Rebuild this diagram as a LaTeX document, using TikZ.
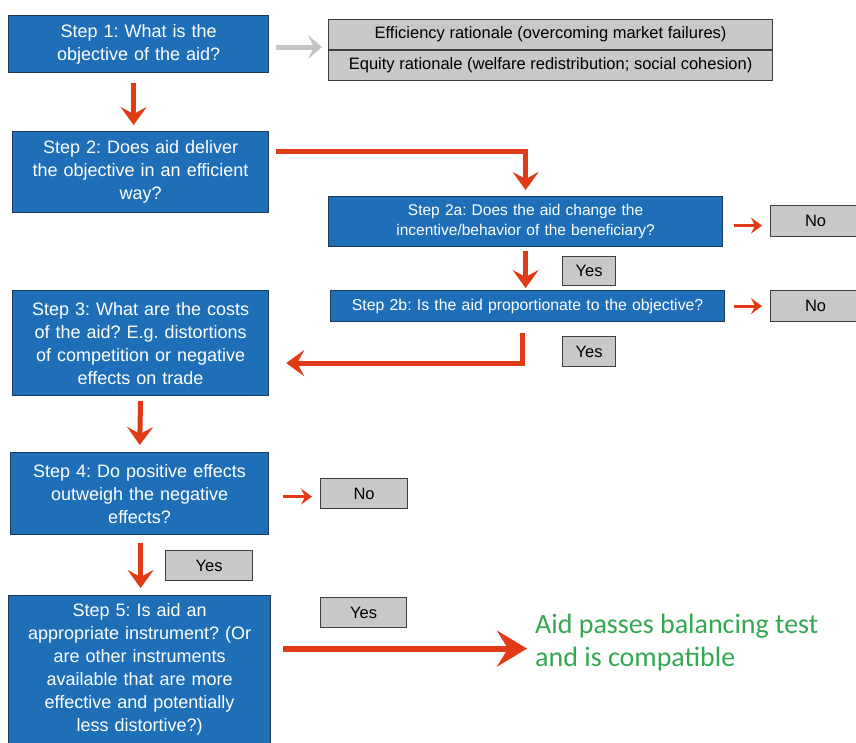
\documentclass[tikz,border=0pt]{standalone}
\usepackage{fontspec}
\setmainfont{Liberation Sans}
\newfontfamily\calib{Carlito}
\usetikzlibrary{arrows.meta}
\definecolor{stepblue}{HTML}{1F6FB8}
\definecolor{stepedge}{HTML}{1B3A57}
\definecolor{boxgray}{HTML}{C8C8C8}
\definecolor{arrred}{HTML}{E03A16}
\definecolor{passgreen}{HTML}{33A852}
\definecolor{arrgray}{HTML}{C4C4C4}
\frenchspacing
\begin{document}
\begin{tikzpicture}[x=1pt,y=-1pt,
 stepbox/.style={draw=stepedge, line width=1.2pt, fill=stepblue, text=white, align=center, anchor=north west, inner sep=0pt, font=\fontsize{18}{23}\selectfont},
 graybox/.style={draw=black!75, line width=1.2pt, fill=boxgray, anchor=north west, inner sep=0pt, align=center, font=\fontsize{16.5}{17}\selectfont},
 redarrow/.style={draw=arrred, line width=5pt, -{Stealth[length=18pt,width=26pt,inset=7pt]}},
 smallarrow/.style={draw=arrred, line width=3pt, -{Stealth[length=11pt,width=16pt,inset=4pt]}},
 bigarrow/.style={draw=arrred, line width=6pt, -{Stealth[length=30pt,width=36pt,inset=11pt]}},
 grayarrow/.style={draw=arrgray, line width=5pt, -{Stealth[length=14pt,width=24pt,inset=6pt]}}]
\useasboundingbox[fill=white] (0,0) rectangle (856,742);

\node[stepbox, minimum width=260pt, minimum height=57pt, text width=256pt] (s1) at (8,15) {Step 1: What is the\\objective of the aid?};
\node[graybox, minimum width=444pt, minimum height=30pt] (eff) at (328,19) {Efficiency rationale (overcoming market failures)};
\node[graybox, minimum width=444pt, minimum height=30pt] (eq) at (328,50) {Equity rationale (welfare redistribution; social cohesion)};
\node[stepbox, minimum width=256pt, minimum height=81pt, text width=252pt] (s2) at (12,131) {Step 2: Does aid deliver\\the objective in an efficient\\way?};
\node[stepbox, minimum width=394pt, minimum height=50pt, text width=390pt, font=\fontsize{15.5}{20}\selectfont] (s2a) at (328,196) {Step 2a: Does the aid change the\\incentive/behavior of the beneficiary?};
\node[graybox, minimum width=90pt, minimum height=31pt] (no1) at (770,205) {No};
\node[graybox, minimum width=53pt, minimum height=29pt] (yes1) at (562,256) {Yes};
\node[stepbox, minimum width=394pt, minimum height=31pt, text width=392pt, font=\fontsize{15.8}{20}\selectfont] (s2b) at (330,290) {Step 2b: Is the aid proportionate to the objective?};
\node[graybox, minimum width=90pt, minimum height=31pt] (no2) at (770,290) {No};
\node[graybox, minimum width=53pt, minimum height=30pt] (yes2) at (562,336) {Yes};
\node[stepbox, minimum width=256pt, minimum height=105pt, text width=252pt] (s3) at (12,290) {Step 3: What are the costs\\of the aid? E.g. distortions\\of competition or negative\\effects on trade};
\node[stepbox, minimum width=258pt, minimum height=82pt, text width=254pt] (s4) at (10,452) {Step 4: Do positive effects\\outweigh the negative\\effects?};
\node[graybox, minimum width=87pt, minimum height=30pt] (no3) at (320,478) {No};
\node[graybox, minimum width=87pt, minimum height=30pt] (yes3) at (165,550) {Yes};
\node[stepbox, minimum width=262pt, minimum height=148pt, text width=258pt] (s5) at (8,595) {Step 5: Is aid an\\appropriate instrument? (Or\\are other instruments\\available that are more\\effective and potentially\\less distortive?)};
\node[graybox, minimum width=86pt, minimum height=30pt] (yes4) at (320,597) {Yes};
\node[anchor=north west, inner sep=0pt, align=left, text=passgreen, font=\calib\fontsize{28}{33}\selectfont] (pass) at (535,614) {Aid passes balancing test\\and is compatible};

\draw[grayarrow, shorten <=7pt, shorten >=6pt] ([yshift=-3pt]s1.east) -- ([yshift=-3pt]s1.east -| eff.west);
\draw[redarrow, shorten <=10pt, shorten >=6pt] ([xshift=-5pt]s1.south) -- ([xshift=-7pt]s2.north);
\draw[redarrow, shorten >=6pt] ([xshift=7pt,yshift=21pt]s2.east) -| (s2a.north);
\draw[smallarrow, shorten <=11pt, shorten >=8pt] ([yshift=-4pt]s2a.east) -- ([yshift=-4pt]s2a.east -| no1.west);
\draw[redarrow, shorten <=4pt, shorten >=2pt] ([xshift=-2pt]s2b.north |- s2a.south) -- ([xshift=-2pt]s2b.north);
\draw[smallarrow, shorten <=9pt, shorten >=8pt] (s2b.east) -- (no2.west);
\coordinate (c2b) at ([xshift=-5pt,yshift=-11pt]s2b.south);
\draw[redarrow, shorten >=17pt] (c2b) |- ([yshift=-20pt]s3.east);
\draw[redarrow, shorten <=5pt, shorten >=7pt] (s3.south) -- (s4.north);
\draw[smallarrow, shorten <=14pt, shorten >=8pt] ([yshift=-3pt]s4.east) -- ([yshift=-3pt]s4.east -| no3.west);
\draw[redarrow, shorten <=8pt, shorten >=7pt] ([xshift=1pt]s4.south) -- ([xshift=1pt]s4.south |- s5.north);
\coordinate (c5) at ([xshift=12pt,yshift=21pt]s5.east);
\draw[bigarrow, shorten >=8pt] (c5) -- (c5 -| pass.west);
\end{tikzpicture}
\end{document}
